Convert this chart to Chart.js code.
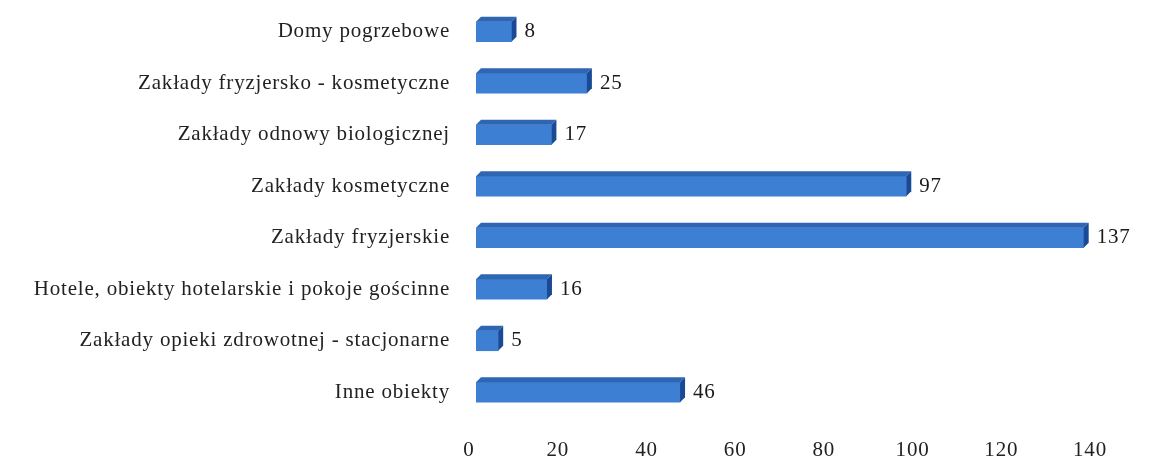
<!DOCTYPE html>
<html>
<head>
<meta charset="utf-8">
<script src="https://cdn.jsdelivr.net/npm/chart.js@4.4.1/dist/chart.umd.min.js"></script>
<style>
  html, body { margin: 0; padding: 0; background: #fff; }
  #wrap { width: 1156px; height: 475px; }
</style>
</head>
<body>
<div id="wrap"><canvas id="myChart" width="1156" height="475"></canvas></div>
<script>
// categories, top to bottom
var categories = [
  'Domy pogrzebowe',
  'Zakłady fryzjersko - kosmetyczne',
  'Zakłady odnowy biologicznej',
  'Zakłady kosmetyczne',
  'Zakłady fryzjerskie',
  'Hotele, obiekty hotelarskie i pokoje gościnne',
  'Zakłady opieki zdrowotnej - stacjonarne',
  'Inne obiekty'
]
var counts = [8, 25, 17, 97, 137, 16, 5, 46]
var xTicks = [0, 20, 40, 60, 80, 100, 120, 140]

var depth = 5
var shift = 7 // 3D floor offset of the bars relative to the ticks

// letter spacing to get closer to the wide scanned serif
var spacing = {
  id: 'spacing',
  beforeDraw: function (chart) {
    chart.ctx.letterSpacing = '0.8px'
  }
}

// fake 3D faces + value labels, drawn from bar element positions
var bar3d = {
  id: 'bar3d',
  beforeDatasetsDraw: function (chart) {
    chart.ctx.save()
    chart.ctx.translate(shift, 0)
  },
  afterDatasetsDraw: function (chart) {
    var ctx = chart.ctx
    var meta = chart.getDatasetMeta(0)
    meta.data.forEach(function (bar, i) {
      var x0 = bar.base
      var x1 = bar.x
      var top = bar.y - bar.height / 2
      var bot = bar.y + bar.height / 2
      // top face
      ctx.fillStyle = '#2f66b3'
      ctx.beginPath()
      ctx.moveTo(x0, top)
      ctx.lineTo(x0 + depth, top - depth)
      ctx.lineTo(x1 + depth, top - depth)
      ctx.lineTo(x1, top)
      ctx.closePath()
      ctx.fill()
      // side face
      ctx.fillStyle = '#1a4a95'
      ctx.beginPath()
      ctx.moveTo(x1, top)
      ctx.lineTo(x1 + depth, top - depth)
      ctx.lineTo(x1 + depth, bot - depth)
      ctx.lineTo(x1, bot)
      ctx.closePath()
      ctx.fill()
      // value
      ctx.fillStyle = '#1a1a1a'
      ctx.font = '21px "Liberation Serif"'
      ctx.textAlign = 'left'
      ctx.textBaseline = 'middle'
      ctx.fillText(String(counts[i]), x1 + depth + 8, bar.y)
    })
    ctx.restore()
  }
}

var ctx = document.getElementById('myChart').getContext('2d')
var myChart = new Chart(ctx, {
  type: 'bar',
  data: {
    labels: categories,
    datasets: [{
      data: counts,
      backgroundColor: '#3d7fd2',
      borderWidth: 0,
      barThickness: 20
    }]
  },
  options: {
    indexAxis: 'y',
    responsive: false,
    animation: false,
    layout: {
      padding: { left: 0, right: 66, top: 6, bottom: 0 }
    },
    scales: {
      x: {
        min: 0,
        max: 140,
        afterBuildTicks: function (scale) {
          scale.ticks = xTicks.map(function (v) { return { value: v } })
        },
        afterFit: function (scale) { scale.height = 57 },
        grid: { display: false },
        border: { display: false },
        ticks: {
          color: '#222',
          padding: 12,
          maxRotation: 0,
          font: { family: 'Liberation Serif', size: 21 }
        }
      },
      y: {
        afterFit: function (scale) {
          scale.width = 469
          scale.paddingTop = 0
          scale.paddingBottom = 0
        },
        grid: { display: false },
        border: { display: false },
        ticks: {
          color: '#222',
          padding: 11,
          font: { family: 'Liberation Serif', size: 21 }
        }
      }
    },
    plugins: {
      legend: { display: false },
      tooltip: { enabled: false }
    }
  },
  plugins: [spacing, bar3d]
})
</script>
</body>
</html>
